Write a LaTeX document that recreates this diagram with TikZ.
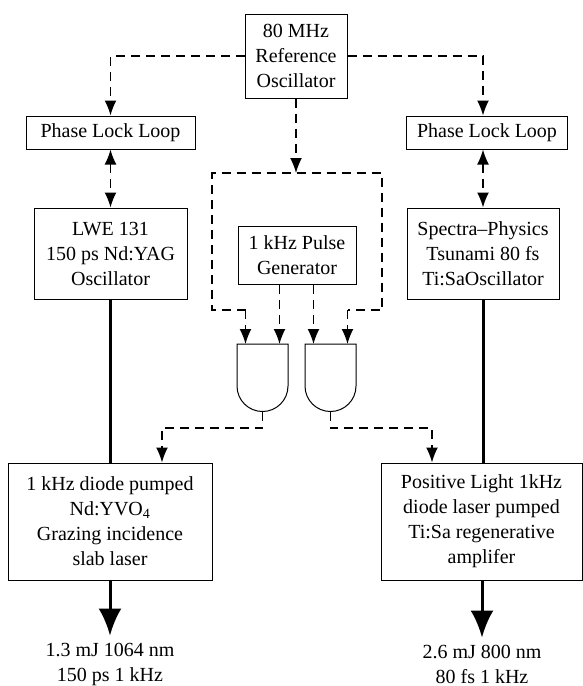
\documentclass[tikz,border=0pt]{standalone}
\usepackage{fontspec}
\setmainfont{Liberation Serif}
\usetikzlibrary{arrows.meta}

\begin{document}
\begin{tikzpicture}[x=1pt,y=-1pt,
  txt/.style={inner sep=0pt,align=center,font=\fontsize{20}{25}\selectfont},
  box/.style={txt,draw,line width=1pt},
  sig/.style={line width=1.5pt,dash pattern=on 9pt off 6pt},
  sigarrow/.style={sig,-{Latex[length=15pt,width=12pt]}},
  sigboth/.style={sig,{Latex[length=15pt,width=12pt]}-{Latex[length=15pt,width=12pt]}},
  beam/.style={line width=3pt},
  beamarrow/.style={beam,-{Latex[length=27pt,width=23pt]}},
  gate/.style={draw,line width=1pt}
]
\useasboundingbox (0,0) rectangle (582,686);

% Reference and phase locks
\node[box,minimum width=102pt,minimum height=84pt] (ref) at (296,56) {80 MHz\\Reference\\Oscillator};
\node[box,minimum width=169pt,minimum height=33pt] (pllL) at (110.5,132.5) {Phase Lock Loop};
\node[box,minimum width=161pt,minimum height=33pt] (pllR) at (487,132.5) {Phase Lock Loop};

% Oscillators
\node[box,minimum width=153pt,minimum height=91pt] (lwe) at (110.5,253.5) {LWE 131\\150 ps Nd:YAG\\Oscillator};
\node[box,minimum width=152pt,minimum height=91pt] (tsu) at (483,253.5) {Spectra--Physics\\Tsunami 80 fs\\Ti:SaOscillator};

% Pulse generator
\node[box,minimum width=118pt,minimum height=58pt] (pulse) at (297,255) {1 kHz Pulse\\Generator};

% Amplifiers
\node[box,minimum width=204pt,minimum height=117pt] (yvo) at (110,521.5) {1 kHz diode pumped\\Nd:YVO\textsubscript{4}\\Grazing incidence\\slab laser};
\node[box,minimum width=201pt,minimum height=117pt] (regen) at (481.5,521.5) {Positive Light 1kHz\\diode laser pumped\\Ti:Sa regenerative\\amplifer};

% Outputs
\node[txt] (outL) at (110,664) {1.3 mJ 1064 nm\\150 ps 1 kHz};
\node[txt] (outR) at (482,664) {2.6 mJ 800 nm\\80 fs 1 kHz};

% AND gates
\coordinate (a1) at (245.5,344);
\coordinate (a2) at (279.5,344);
\coordinate (b1) at (313.5,344);
\coordinate (b2) at (347.5,344);
\coordinate (gA) at (262.5,411.5);
\coordinate (gB) at (330.5,411.5);
\draw[gate] (237,344) -- (288,344) -- (288,386)
  arc[start angle=0,end angle=180,radius=25.5] -- cycle;
\draw[gate] (305,344) -- (356,344) -- (356,386)
  arc[start angle=0,end angle=180,radius=25.5] -- cycle;

% Reference distribution
\coordinate (busNW) at (212,173);
\coordinate (busSE) at (382,310);
\draw[sigarrow] (ref.west) -| (pllL.north);
\draw[sigarrow] (ref.east) -| (tsu.north |- pllR.north);
\draw[sigarrow] (ref.south) -- (ref.south |- busNW);
\draw[sig] (a1 |- busSE) -| (busNW) -| (busSE) -- (b2 |- busSE);
\draw[sigarrow] (a1 |- busSE) -- (a1);
\draw[sigarrow] (b2 |- busSE) -- (b2);
\draw[sigarrow] (pulse.south -| a2) -- (a2);
\draw[sigarrow] (pulse.south -| b1) -- (b1);

% Locks
\draw[sigboth] (pllL.south) -- (lwe.north);
\draw[sigboth] (tsu.north |- pllR.south) -- (tsu.north);

% Gate outputs
\draw[sigarrow] (gA) -- ++(0,16.5) -| ([xshift=52pt]yvo.north);
\draw[sigarrow] (gB) -- ++(0,16.5) -| ([xshift=-49.5pt]regen.north);

% Seed beams
\draw[beam] (lwe.south) -- (lwe.south |- yvo.north);
\draw[beam] (tsu.south) -- (tsu.south |- regen.north);
\draw[beamarrow] (yvo.south) -- ([yshift=7pt]outL.north);
\draw[beamarrow] (regen.south -| outR) -- ([yshift=7pt]outR.north);

\end{tikzpicture}
\end{document}
